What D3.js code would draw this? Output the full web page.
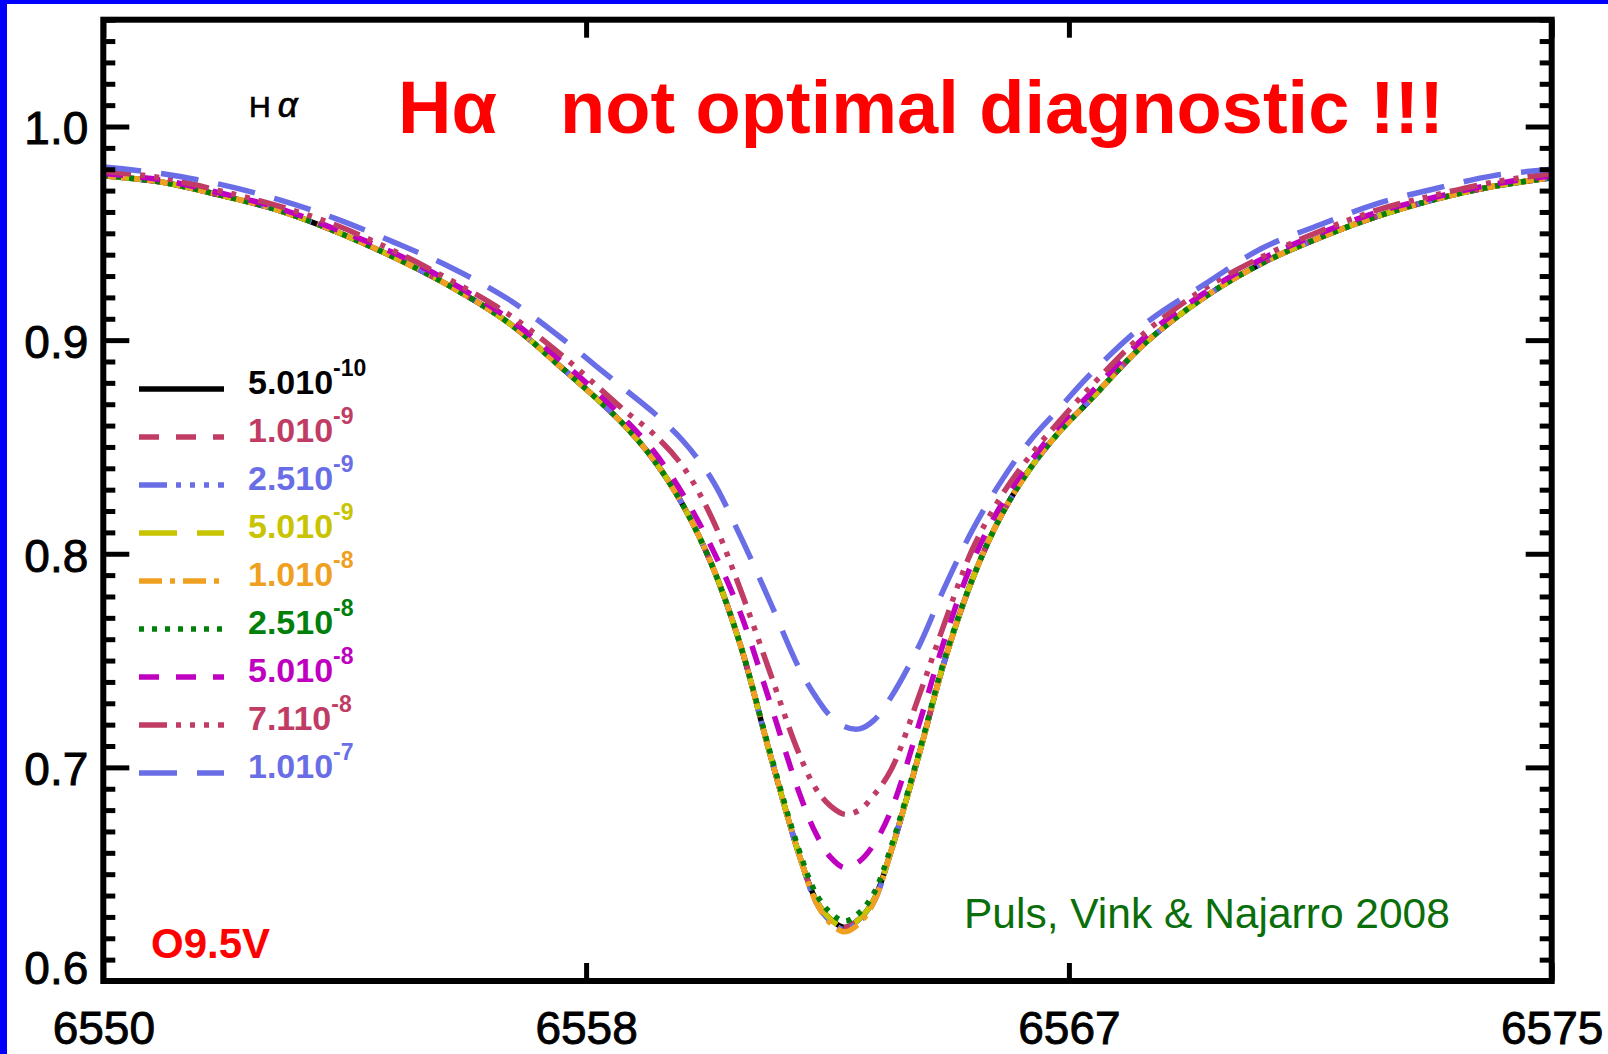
<!DOCTYPE html>
<html>
<head>
<meta charset="utf-8">
<script src="https://cdn.jsdelivr.net/npm/d3@7"></script>
<style>
  html, body { margin: 0; padding: 0; background: #ffffff; }
  svg { display: block; }
</style>
</head>
<body>
<svg id="chart" width="1608" height="1054"></svg>
<script>
// Wavelength grid (Angstrom) shared by every model profile
const wavelength = [6550, 6551, 6552, 6553, 6554, 6555, 6556, 6557, 6558, 6558.5,
  6559, 6559.5, 6560, 6560.5, 6561, 6561.5, 6562, 6562.3, 6562.55, 6562.8,
  6563.05, 6563.3, 6563.6, 6564.1, 6564.5, 6565, 6565.5, 6566, 6566.5, 6567,
  6568, 6569, 6570, 6571, 6572, 6573, 6574, 6575];

// Normalised Halpha flux for each mass-loss rate
const flux_5e10 = [0.977, 0.974, 0.968, 0.961, 0.951, 0.939, 0.925, 0.908, 0.885, 0.873,
  0.860, 0.844, 0.823, 0.795, 0.757, 0.707, 0.660, 0.638, 0.629, 0.625,
  0.629, 0.638, 0.661, 0.708, 0.748, 0.788, 0.818, 0.840, 0.857, 0.871,
  0.899, 0.920, 0.936, 0.948, 0.958, 0.966, 0.972, 0.976];
const flux_1e9 = [0.977, 0.974, 0.968, 0.961, 0.951, 0.939, 0.925, 0.908, 0.885, 0.873,
  0.860, 0.844, 0.823, 0.795, 0.757, 0.707, 0.660, 0.638, 0.629, 0.625,
  0.629, 0.638, 0.661, 0.708, 0.748, 0.788, 0.818, 0.840, 0.857, 0.871,
  0.899, 0.920, 0.936, 0.948, 0.958, 0.966, 0.972, 0.976];
const flux_25e9 = [0.977, 0.974, 0.968, 0.961, 0.951, 0.939, 0.925, 0.908, 0.885, 0.873,
  0.860, 0.844, 0.823, 0.795, 0.757, 0.707, 0.660, 0.637, 0.628, 0.624,
  0.628, 0.637, 0.661, 0.708, 0.748, 0.788, 0.818, 0.840, 0.857, 0.871,
  0.899, 0.920, 0.936, 0.948, 0.958, 0.966, 0.972, 0.976];
const flux_5e9 = [0.977, 0.974, 0.968, 0.961, 0.951, 0.939, 0.925, 0.908, 0.885, 0.873,
  0.860, 0.844, 0.823, 0.795, 0.757, 0.707, 0.660, 0.638, 0.629, 0.625,
  0.629, 0.638, 0.661, 0.708, 0.748, 0.788, 0.818, 0.840, 0.857, 0.871,
  0.899, 0.920, 0.936, 0.948, 0.958, 0.966, 0.972, 0.976];
const flux_1e8 = [0.977, 0.974, 0.968, 0.961, 0.951, 0.939, 0.925, 0.908, 0.885, 0.873,
  0.860, 0.844, 0.823, 0.795, 0.757, 0.707, 0.660, 0.637, 0.627, 0.623,
  0.627, 0.637, 0.661, 0.708, 0.748, 0.788, 0.818, 0.840, 0.857, 0.871,
  0.899, 0.920, 0.936, 0.948, 0.958, 0.966, 0.972, 0.976];
const flux_25e8 = [0.977, 0.974, 0.968, 0.961, 0.951, 0.939, 0.925, 0.908, 0.885, 0.873,
  0.860, 0.844, 0.823, 0.795, 0.757, 0.708, 0.662, 0.641, 0.632, 0.628,
  0.632, 0.641, 0.663, 0.709, 0.749, 0.788, 0.818, 0.840, 0.857, 0.871,
  0.899, 0.920, 0.936, 0.948, 0.958, 0.966, 0.972, 0.976];
const flux_5e8 = [0.978, 0.975, 0.969, 0.962, 0.952, 0.941, 0.927, 0.910, 0.888, 0.876,
  0.863, 0.848, 0.828, 0.803, 0.772, 0.731, 0.689, 0.669, 0.658, 0.653,
  0.656, 0.664, 0.680, 0.722, 0.758, 0.796, 0.823, 0.843, 0.860, 0.874,
  0.902, 0.922, 0.938, 0.950, 0.960, 0.967, 0.973, 0.977];
const flux_71e8 = [0.979, 0.976, 0.970, 0.963, 0.954, 0.942, 0.928, 0.912, 0.891, 0.879,
  0.867, 0.856, 0.841, 0.817, 0.783, 0.745, 0.707, 0.690, 0.682, 0.678,
  0.680, 0.687, 0.699, 0.735, 0.766, 0.802, 0.827, 0.846, 0.862, 0.877,
  0.904, 0.924, 0.939, 0.951, 0.961, 0.968, 0.974, 0.978];
const flux_1e7 = [0.981, 0.978, 0.973, 0.966, 0.957, 0.946, 0.934, 0.919, 0.899, 0.888,
  0.877, 0.866, 0.853, 0.835, 0.808, 0.778, 0.747, 0.733, 0.724, 0.719,
  0.718, 0.722, 0.733, 0.758, 0.783, 0.811, 0.834, 0.853, 0.868, 0.883,
  0.908, 0.926, 0.943, 0.954, 0.964, 0.971, 0.977, 0.980];

// Legend text: mantissa and exponent of each mass-loss rate
const rateMantissa = ["5.010", "1.010", "2.510", "5.010", "1.010", "2.510", "5.010", "7.110", "1.010"];
const rateExponent = ["-10", "-9", "-9", "-9", "-8", "-8", "-8", "-8", "-7"];

// Axis ticks
const xTicks = [6550, 6550 + 25 / 3, 6550 + 50 / 3, 6575];
const yTicks = [0.6, 0.7, 0.8, 0.9, 1.0];
const yMinorTicks = d3.range(60, 106).map(v => v / 100).filter(v => Math.round(v * 100) % 10 !== 0);

// Line style per model (IDL-like linestyles)
const seriesStyles = [
  { flux: flux_5e10, color: "#000000", dash: null },
  { flux: flux_1e9,  color: "#c03c64", dash: "20,17" },
  { flux: flux_25e9, color: "#6a6ee6", dash: "28,9,5,9,5,9,5,9" },
  { flux: flux_5e9,  color: "#c8c400", dash: "38,20" },
  { flux: flux_1e8,  color: "#f0a020", dash: "23,8,5,8" },
  { flux: flux_25e8, color: "#00800a", dash: "5,8" },
  { flux: flux_5e8,  color: "#c000c0", dash: "20,17" },
  { flux: flux_71e8, color: "#c03c64", dash: "28,9,5,9,5,9,5,9" },
  { flux: flux_1e7,  color: "#6a6ee6", dash: "38,20" }
];

const svg = d3.select("#chart");
const W = 1608, H = 1054;
const plotLeft = 103.3, plotRight = 1551.7, plotTop = 19.7, plotBottom = 981;

// Slide frame: blue strip on the left and top
svg.append("rect").attr("x", 0).attr("y", 0).attr("width", W).attr("height", H).attr("fill", "#ffffff");
svg.append("rect").attr("x", 0).attr("y", 0).attr("width", 7).attr("height", H).attr("fill", "#0000ff");
svg.append("rect").attr("x", 0).attr("y", 0).attr("width", W).attr("height", 4).attr("fill", "#0000ff");

const x = d3.scaleLinear().domain([6550, 6575]).range([plotLeft, plotRight]);
const y = d3.scaleLinear().domain([0.6, 1.05]).range([plotBottom, plotTop]);

svg.append("defs").append("clipPath").attr("id", "plotClip")
  .append("rect").attr("x", plotLeft).attr("y", plotTop)
  .attr("width", plotRight - plotLeft).attr("height", plotBottom - plotTop);

// Profiles
const line = d3.line()
  .x((d, i) => x(wavelength[i]))
  .y(d => y(d))
  .curve(d3.curveCatmullRom.alpha(0.5));

const curves = svg.append("g").attr("clip-path", "url(#plotClip)");
seriesStyles.forEach(s => {
  curves.append("path")
    .datum(s.flux)
    .attr("d", line)
    .attr("fill", "none")
    .attr("stroke", s.color)
    .attr("stroke-width", 5.5)
    .attr("stroke-linecap", "butt")
    .attr("stroke-linejoin", "round")
    .attr("stroke-dasharray", s.dash);
});

// Axes
const tickFont = "'Liberation Sans', Arial, sans-serif";
function styleAxis(g) {
  g.select(".domain").remove();
  g.selectAll(".tick line").attr("stroke", "#000").attr("stroke-width", 5);
  g.selectAll(".tick text")
    .attr("fill", "#000").attr("stroke", "#000").attr("stroke-width", 0.9)
    .attr("font-family", tickFont).attr("font-size", 46);
}

const xFormat = v => d3.format("d")(Math.round(v));

svg.append("g").attr("transform", `translate(0,${plotBottom})`)
  .call(d3.axisBottom(x).tickValues(xTicks).tickSize(-18).tickPadding(30).tickFormat(xFormat))
  .call(styleAxis);

svg.append("g").attr("transform", `translate(0,${plotTop})`)
  .call(d3.axisTop(x).tickValues(xTicks).tickSize(-18).tickFormat(""))
  .call(styleAxis);

svg.append("g").attr("transform", `translate(${plotLeft},0)`)
  .call(d3.axisLeft(y).tickValues(yTicks).tickSize(-26).tickPadding(15).tickFormat(d3.format(".1f")))
  .call(styleAxis)
  .call(g => g.selectAll(".tick text")
    .attr("dy", d => d === 0.6 ? "0.05em" : "0.38em"));

svg.append("g").attr("transform", `translate(${plotLeft},0)`)
  .call(d3.axisLeft(y).tickValues(yMinorTicks).tickSize(-12).tickFormat(""))
  .call(styleAxis);

svg.append("g").attr("transform", `translate(${plotRight},0)`)
  .call(d3.axisRight(y).tickValues(yTicks).tickSize(-26).tickFormat(""))
  .call(styleAxis);

svg.append("g").attr("transform", `translate(${plotRight},0)`)
  .call(d3.axisRight(y).tickValues(yMinorTicks).tickSize(-12).tickFormat(""))
  .call(styleAxis);

// Plot frame
svg.append("rect")
  .attr("x", plotLeft).attr("y", plotTop)
  .attr("width", plotRight - plotLeft).attr("height", plotBottom - plotTop)
  .attr("fill", "none").attr("stroke", "#000").attr("stroke-width", 6);

// Legend
const legend = svg.append("g");
seriesStyles.forEach((s, i) => {
  const ly = 389 + i * 48;
  legend.append("line")
    .attr("x1", 139).attr("x2", 224).attr("y1", ly).attr("y2", ly)
    .attr("stroke", s.color).attr("stroke-width", 5.5)
    .attr("stroke-dasharray", s.dash);
  const t = legend.append("text")
    .attr("x", 248).attr("y", ly + 5)
    .attr("fill", s.color)
    .attr("font-family", tickFont)
    .attr("font-weight", "bold")
    .attr("font-size", 34);
  t.append("tspan").text(rateMantissa[i]);
  t.append("tspan").attr("dy", -18).attr("font-size", 23).text(rateExponent[i]);
});

// Annotations
svg.append("text")
  .attr("x", 249).attr("y", 117)
  .attr("font-family", tickFont).attr("font-size", 30).attr("fill", "#000")
  .attr("stroke", "#000").attr("stroke-width", 0.7)
  .call(t => {
    t.append("tspan").text("H");
    t.append("tspan").attr("dx", 7).attr("font-size", 35).attr("font-style", "italic").text("α");
  });

svg.append("text")
  .attr("y", 133)
  .attr("font-family", tickFont).attr("font-weight", "bold").attr("font-size", 74).attr("fill", "#ff0000")
  .call(t => {
    t.append("tspan").attr("x", 398).text("Hα");
    t.append("tspan").attr("x", 560).text("not optimal diagnostic !!!");
  });

svg.append("text")
  .attr("x", 151).attr("y", 958)
  .attr("font-family", tickFont).attr("font-weight", "bold").attr("font-size", 42).attr("fill", "#ff0000")
  .text("O9.5V");

svg.append("text")
  .attr("x", 964).attr("y", 928)
  .attr("font-family", tickFont).attr("font-size", 42.5).attr("fill", "#0a6e0a")
  .text("Puls, Vink & Najarro 2008");
</script>
</body>
</html>
